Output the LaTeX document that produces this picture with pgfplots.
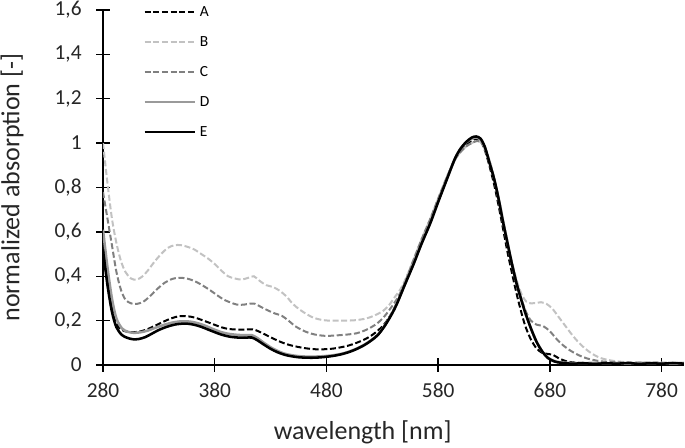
\documentclass[border=0pt]{standalone}
\usepackage{fontspec}
\setmainfont{Carlito}
\usepackage{pgfplots}
\pgfplotsset{compat=1.18}
\definecolor{cB}{HTML}{C2C2C2}
\definecolor{cC}{HTML}{808080}
\definecolor{cD}{HTML}{9A9A9A}
\begin{document}
\begin{tikzpicture}
\begin{axis}[
  at={(0,0)}, anchor=south west,
  scale only axis,
  width=435.75pt, height=266.25pt,
  xmin=280, xmax=800, ymin=0, ymax=1.6,
  axis lines=left,
  axis line style={-, line width=1.1pt, black},
  every tick/.style={black, line width=1.1pt},
  tick align=center,
  major tick length=10pt,
  xtick={280,380,480,580,680,780},
  ytick={0,0.2,0.4,0.6,0.8,1,1.2,1.4,1.6},
  /pgf/number format/assume math mode=true,
  /pgf/number format/use comma,
  /pgf/number format/fixed,
  /pgf/number format/precision=1,
  tick label style={font=\fontsize{16}{19}\selectfont, text=black!85},
  xticklabel style={yshift=-5pt},
  yticklabel style={xshift=-7.5pt},
  xlabel={wavelength [nm]},
  ylabel={normalized absorption [-]},
  xlabel style={font=\fontsize{19.5}{23}\selectfont, text=black!85, at={(axis description cs:0.447,-0.1887)}, anchor=center},
  ylabel style={font=\fontsize{19.5}{23}\selectfont, text=black!85, at={(axis description cs:-0.1566,0.5)}, rotate=0, anchor=center},
  legend style={draw=none, fill=none, at={(axis description cs:0.0688,1)}, anchor=north west, yshift=2.5pt,
    inner sep=0pt, row sep=15pt, column sep=3pt, font=\fontsize{11.6}{13}\selectfont,
    nodes={inner sep=0pt, text height=7.5pt, text depth=0pt}, cells={anchor=west}},
  legend image code/.code={\draw[#1] (0pt,0pt) -- (37.5pt,0pt);},
  legend cell align=left,
  clip=true,
]
% A
\addplot[black, line width=1.5pt, dash pattern=on 4.5pt off 2pt, smooth] coordinates {
(280,0.57)(284,0.40)(288,0.26)(292,0.185)(297,0.158)(302,0.15)(308,0.148)(314,0.152)(320,0.162)(327,0.178)
(334,0.195)(341,0.21)(348,0.22)(355,0.22)(362,0.214)(370,0.2)(378,0.185)(386,0.17)(393,0.162)(400,0.16)
(407,0.16)(414,0.161)(420,0.15)(426,0.135)(432,0.12)(440,0.102)(447,0.09)(454,0.082)(462,0.075)(470,0.071)
(478,0.071)(486,0.074)(493,0.08)(500,0.088)(507,0.1)(514,0.115)(520,0.132)(526,0.155)(532,0.185)(538,0.23)
(543,0.28)(550,0.36)(558,0.46)(565,0.55)(573,0.645)(580,0.74)(588,0.845)(595,0.93)(600,0.97)(605,0.995)
(610,1.01)(614,1.02)(618,1.01)(622,0.965)(626,0.895)(630,0.815)(634,0.72)(638,0.615)(642,0.51)(646,0.415)
(650,0.325)(654,0.245)(658,0.175)(663,0.115)(668,0.075)(673,0.055)(678,0.05)(683,0.045)(688,0.03)(694,0.018)
(700,0.012)(710,0.009)(720,0.007)(730,0.009)(740,0.006)(750,0.008)(760,0.006)(770,0.009)(780,0.006)(790,0.008)(800,0.007)
};
\addlegendentry{A}
% B
\addplot[cB, line width=1.5pt, dash pattern=on 4.5pt off 2pt, smooth] coordinates {
(280,1.0)(284,0.82)(288,0.66)(292,0.55)(296,0.47)(300,0.42)(305,0.39)(310,0.385)(315,0.398)(320,0.425)
(326,0.465)(332,0.5)(338,0.528)(344,0.54)(350,0.54)(356,0.532)(362,0.52)(368,0.5)(374,0.48)(380,0.455)
(386,0.425)(392,0.4)(398,0.39)(404,0.385)(410,0.393)(415,0.4)(420,0.38)(426,0.36)(432,0.352)(438,0.335)
(444,0.31)(450,0.275)(456,0.25)(462,0.23)(468,0.214)(475,0.204)(482,0.2)(490,0.2)(498,0.2)(506,0.202)
(513,0.207)(519,0.215)(525,0.228)(531,0.245)(536,0.27)(541,0.305)(546,0.34)(551,0.39)(558,0.475)(565,0.565)
(573,0.66)(580,0.75)(588,0.85)(595,0.925)(600,0.96)(605,0.985)(610,1.0)(615,1.01)(619,1.0)(623,0.965)
(627,0.905)(631,0.825)(635,0.735)(639,0.635)(643,0.535)(647,0.445)(651,0.37)(655,0.315)(659,0.285)(663,0.278)
(668,0.28)(672,0.283)(677,0.275)(682,0.255)(688,0.215)(694,0.175)(700,0.135)(706,0.1)(712,0.072)(718,0.05)
(725,0.032)(735,0.02)(745,0.014)(755,0.012)(765,0.01)(775,0.012)(785,0.009)(800,0.01)
};
\addlegendentry{B}
% C
\addplot[cC, line width=1.5pt, dash pattern=on 4.5pt off 2pt, smooth] coordinates {
(280,0.78)(284,0.66)(288,0.54)(292,0.42)(296,0.34)(300,0.295)(305,0.278)(310,0.275)(316,0.285)(322,0.31)
(328,0.34)(335,0.37)(342,0.388)(348,0.393)(355,0.39)(362,0.378)(368,0.362)(375,0.34)(382,0.315)(388,0.295)
(394,0.282)(400,0.272)(406,0.272)(412,0.277)(416,0.276)(422,0.26)(428,0.245)(434,0.232)(440,0.222)(446,0.2)
(452,0.175)(458,0.158)(464,0.145)(470,0.137)(477,0.132)(485,0.132)(493,0.135)(500,0.138)(507,0.143)(514,0.155)
(520,0.17)(526,0.19)(532,0.22)(538,0.26)(544,0.305)(550,0.37)(558,0.475)(565,0.565)(573,0.66)(580,0.75)
(588,0.85)(595,0.925)(600,0.96)(605,0.985)(610,1.0)(615,1.01)(619,1.0)(623,0.96)(627,0.9)(631,0.82)
(635,0.73)(639,0.63)(643,0.53)(647,0.44)(651,0.36)(655,0.29)(659,0.235)(663,0.2)(668,0.182)(674,0.175)
(680,0.152)(686,0.117)(692,0.088)(698,0.066)(705,0.046)(713,0.03)(725,0.017)(740,0.012)(755,0.01)(770,0.011)(785,0.009)(800,0.01)
};
\addlegendentry{C}
% D
\addplot[cD, line width=1.9pt, smooth] coordinates {
(280,0.61)(284,0.44)(288,0.30)(292,0.21)(297,0.165)(302,0.15)(308,0.145)(314,0.148)(320,0.155)(327,0.168)
(334,0.18)(341,0.19)(348,0.196)(355,0.197)(362,0.192)(370,0.18)(378,0.163)(386,0.148)(393,0.14)(400,0.136)
(407,0.134)(413,0.135)(418,0.122)(424,0.1)(430,0.08)(436,0.064)(442,0.052)(448,0.045)(455,0.04)(462,0.038)
(470,0.038)(478,0.04)(486,0.044)(493,0.05)(500,0.06)(507,0.074)(514,0.092)(520,0.112)(526,0.137)(532,0.177)
(538,0.227)(543,0.277)(550,0.362)(558,0.457)(565,0.547)(573,0.642)(580,0.737)(588,0.842)(595,0.93)(600,0.975)
(605,1.003)(610,1.02)(614,1.025)(618,1.015)(622,0.975)(626,0.91)(630,0.84)(634,0.75)(638,0.645)(642,0.55)
(646,0.455)(650,0.37)(654,0.30)(658,0.235)(663,0.165)(668,0.105)(673,0.062)(678,0.034)(684,0.018)(690,0.012)
(700,0.009)(710,0.008)(720,0.01)(730,0.007)(740,0.009)(750,0.006)(760,0.01)(770,0.007)(780,0.009)(790,0.006)(800,0.008)
};
\addlegendentry{D}
% E
\addplot[black, line width=1.9pt, smooth] coordinates {
(280,0.52)(284,0.36)(288,0.24)(292,0.17)(297,0.135)(302,0.122)(307,0.116)(312,0.117)(318,0.126)(324,0.142)
(330,0.158)(337,0.172)(344,0.182)(350,0.186)(356,0.186)(362,0.181)(368,0.172)(374,0.16)(380,0.148)(386,0.137)
(393,0.128)(400,0.124)(407,0.123)(413,0.124)(418,0.112)(424,0.092)(430,0.073)(436,0.058)(442,0.047)(448,0.04)
(455,0.035)(462,0.033)(470,0.033)(478,0.036)(486,0.041)(493,0.048)(500,0.058)(507,0.072)(514,0.09)(520,0.11)
(526,0.135)(532,0.175)(538,0.225)(543,0.275)(550,0.36)(558,0.455)(565,0.545)(573,0.64)(580,0.735)(588,0.84)
(595,0.93)(600,0.975)(605,1.005)(610,1.025)(614,1.03)(618,1.02)(622,0.98)(626,0.91)(630,0.84)(634,0.75)
(638,0.645)(642,0.55)(646,0.455)(650,0.37)(654,0.30)(658,0.235)(663,0.165)(668,0.105)(673,0.062)(678,0.032)
(684,0.016)(690,0.01)(700,0.006)(710,0.008)(720,0.005)(730,0.008)(740,0.006)(750,0.009)(760,0.005)(770,0.008)
(780,0.006)(790,0.009)(800,0.006)
};
\addlegendentry{E}
\end{axis}
\pgfresetboundingbox
\path (-77.25pt,-61.5pt) rectangle (436.5pt,273.75pt);
\end{tikzpicture}
\end{document}
